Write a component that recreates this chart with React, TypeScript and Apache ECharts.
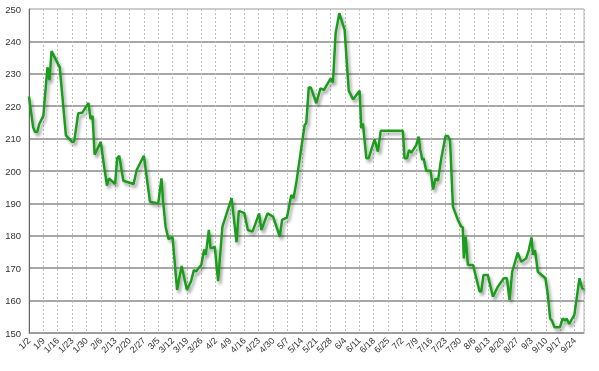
import React, { useEffect, useRef } from "react";
import * as echarts from "echarts";

// Weekly tick labels (one every 7 days, starting 1/2)
const tickLabels = [
  "1/2", "1/9", "1/16", "1/23", "1/30", "2/6", "2/13", "2/20", "2/27",
  "3/5", "3/12", "3/19", "3/26", "4/2", "4/9", "4/16", "4/23", "4/30",
  "5/7", "5/14", "5/21", "5/28", "6/4", "6/11", "6/18", "6/25", "7/2",
  "7/9", "7/16", "7/23", "7/30", "8/6", "8/13", "8/20", "8/27", "9/3",
  "9/10", "9/17", "9/24",
];

// Days after 1/2 of each vertex of the line
const dayOffsets = [
  0, 2, 3, 4, 5, 7, 9, 10, 11, 15, 18, 21, 22, 24, 26, 29, 30, 31, 32, 35,
  36.5, 38, 39, 42, 43, 44, 46, 51, 52.5, 56, 59, 63, 64.6, 65.4, 66.6, 68, 70,
  72.2, 74.4, 77, 79, 80.4, 81.5, 83.3, 84, 85.4, 86.2, 87.7, 88.5, 90.6, 92.2,
  94.3, 98.8, 101.2, 102.3, 105, 106.7, 109, 112.2, 113.3, 116.3, 119, 122.3,
  123.4, 125.8, 127.9, 129, 130.4, 134.4, 135.2, 136.4, 137.4, 140.1, 142.1,
  143.8, 147.1, 148.2, 149.5, 151.3, 153.9, 155.9, 158, 161.2, 162, 162.8,
  164.5, 165.6, 168.5, 170.1, 171.5, 182.3, 183.1, 184.3, 185.3, 186.4, 188.8,
  190, 190.8, 191.8, 192.4, 193.7, 195.8, 197, 198.2, 199.4, 201, 203.1, 204.3,
  205.3, 206.7, 209.1, 210.8, 211.5, 212, 212.9, 214, 216.5, 219.7, 220.5,
  221.6, 223.7, 226.2, 228.6, 231.5, 233, 234.3, 235.6, 238.3, 240, 242.4,
  243.7, 245, 245.8, 246.7, 248.1, 251.8, 252.9, 254.1, 255, 256.2, 258.9,
  260.2, 261.3, 262.1, 263.4, 265.9, 268.4, 269.7, 270.6,
];

// Price at each vertex
const prices = [
  223, 213.5, 212, 212, 214.5, 217, 232, 228, 237, 232, 211, 209, 209, 217.8,
  218, 221, 216, 217, 205, 209, 202, 195.5, 197.7, 196, 204, 204.7, 197, 196,
  200.3, 204.7, 190.5, 190, 197.7, 190.5, 182.8, 179, 179.6, 163.3, 170.7,
  163.3, 166, 169.4, 169, 170.5, 171, 175.8, 174.1, 181.8, 176.1, 176.6, 166,
  182.8, 191.6, 178, 187.7, 187, 181.8, 181.3, 186.9, 181.8, 186.9, 185.9,
  179.7, 184.9, 185.7, 192.6, 191.6, 196.7, 214.2, 214.7, 225.8, 225.8, 220.9,
  225.5, 225, 228.6, 227.3, 242.5, 248.7, 243.5, 224.8, 222.1, 224.8, 213.2,
  214.7, 203.9, 203.9, 209.8, 206, 212.4, 212.4, 203.9, 203.9, 206.5, 205.6,
  208, 210.6, 206.5, 203.4, 203.9, 200.1, 200.1, 194.3, 197.7, 197, 203.9,
  210.8, 210.8, 209.3, 189, 184.9, 182.8, 182.6, 173, 179.7, 171, 171, 162.8,
  162.8, 167.9, 167.9, 161.2, 164.3, 166.9, 166.9, 160.2, 168.9, 174.8, 172,
  173, 175.6, 179.5, 174.1, 175.6, 168.9, 166.9, 162.2, 154.5, 153.8, 151.8,
  151.8, 154.5, 153.8, 154.5, 152.8, 155.6, 166.9, 163.8, 163.5,
];

const yMin = 150;
const yMax = 250;
const yStep = 10;

export default function App() {
  const ref = useRef<HTMLDivElement>(null);

  useEffect(() => {
    if (!ref.current) return;
    const chart = echarts.init(ref.current, null, { renderer: "svg" });
    const data = dayOffsets.map((d, i) => [d, prices[i]]);
    const nLines = (yMax - yMin) / yStep + 1;
    const hColors = Array.from({ length: nLines }, (_, i) =>
      i === nLines - 1 ? "#c8c8c8" : "#8a8a8a"
    );
    chart.setOption({
      animation: false,
      grid: {
        left: 29,
        right: 15,
        top: 9,
        bottom: 38,
        show: true,
        borderColor: "#b4b4b4",
        borderWidth: 1,
        backgroundColor: "#ffffff",
      },
      xAxis: {
        type: "value",
        min: 0,
        max: 270.6,
        interval: 7,
        axisLine: { show: true, onZero: false, lineStyle: { color: "#9a9a9a", width: 1 } },
        axisTick: { show: false },
        splitLine: {
          show: true,
          lineStyle: { color: "#bdbdbd", width: 1, type: [2, 2] },
        },
        axisLabel: {
          rotate: 45,
          fontSize: 9,
          color: "#333",
          fontFamily: "Liberation Sans, Arial, sans-serif",
          margin: 6,
          formatter: (v: number) => {
            const i = Math.round(v / 7);
            return Math.abs(v - i * 7) < 1e-6 ? tickLabels[i] ?? "" : "";
          },
        },
      },
      yAxis: {
        type: "value",
        min: yMin,
        max: yMax,
        interval: yStep,
        axisLine: { show: true, lineStyle: { color: "#666", width: 1 } },
        axisTick: { show: false },
        splitLine: {
          show: true,
          lineStyle: { color: hColors, width: 1.5 },
        },
        axisLabel: {
          fontSize: 9.5,
          color: "#333",
          fontFamily: "Liberation Sans, Arial, sans-serif",
          margin: 8,
        },
      },
      series: [
        {
          type: "line",
          data,
          symbol: "none",
          showSymbol: false,
          lineStyle: {
            color: "#1e9c1e",
            width: 2.5,
            shadowColor: "rgba(0,0,0,0.35)",
            shadowBlur: 3,
            shadowOffsetX: 2,
            shadowOffsetY: 3,
          },
        },
      ],
    });
    return () => chart.dispose();
  }, []);

  return (
    <div
      ref={ref}
      style={{ position: "fixed", left: 0, top: 0, width: 599, height: 371 }}
    />
  );
}
